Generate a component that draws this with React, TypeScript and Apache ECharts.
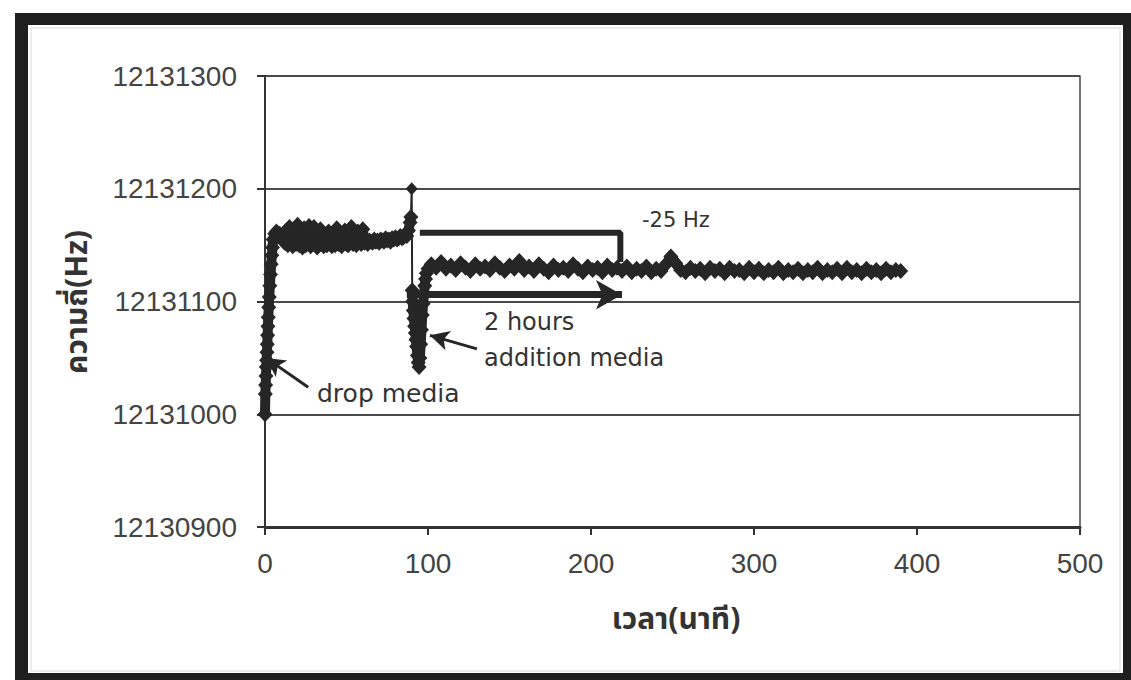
import React, { useEffect, useRef } from "react";
import * as echarts from "echarts";

// ---- Data ----
// drop of medium at t = 0 and settling
const dropTimes = [0, 0.2, 0.4, 0.6, 0.8, 1.0, 1.2, 1.4, 1.6, 1.8, 2.0, 2.3, 2.6, 3.0, 3.4, 3.8, 4.2, 4.6];
const dropFreq = [12131000, 12131018, 12131026, 12131034, 12131042, 12131048, 12131055, 12131062, 12131070, 12131078, 12131086, 12131095, 12131104, 12131114, 12131124, 12131133, 12131141, 12131148];

// first plateau (minutes 5..89.5)
const plateau1Times = [5, 6, 7, 8, 9, 10, 11, 12, 13, 14, 15, 16, 17, 18, 19, 20, 21, 22, 23, 24, 25, 26, 27, 28, 29, 30, 31, 32, 33, 34, 35, 36, 37, 38, 39, 40, 41, 42, 43, 44, 45, 46, 47, 48, 49, 50, 51, 52, 53, 54, 55, 56, 57, 58, 59, 60, 61, 62, 63, 64, 65, 66, 67, 68, 69, 70, 71, 72, 73, 74, 75, 76, 77, 78, 79, 80, 81, 82, 83, 84, 85, 86, 87, 88, 89, 89.5];
const plateau1Freq = [12131155, 12131160, 12131162, 12131158, 12131160, 12131157, 12131155, 12131152, 12131163, 12131150, 12131166, 12131152, 12131149, 12131164, 12131151, 12131168, 12131150, 12131153, 12131148, 12131165, 12131150, 12131152, 12131167, 12131149, 12131151, 12131166, 12131150, 12131148, 12131153, 12131164, 12131151, 12131149, 12131155, 12131150, 12131162, 12131152, 12131149, 12131154, 12131150, 12131165, 12131151, 12131153, 12131149, 12131152, 12131163, 12131151, 12131150, 12131154, 12131166, 12131151, 12131152, 12131150, 12131162, 12131153, 12131151, 12131164, 12131152, 12131153, 12131151, 12131154, 12131153, 12131152, 12131155, 12131153, 12131154, 12131152, 12131155, 12131154, 12131153, 12131156, 12131154, 12131155, 12131153, 12131156, 12131155, 12131157, 12131155, 12131156, 12131158, 12131156, 12131157, 12131159, 12131158, 12131163, 12131170, 12131175];

// single high reading at minute 90
const spikeTimes = [90];
const spikeFreq = [12131200];

// addition of medium around minute 90
const addTimes = [90.3, 90.6, 91, 91.4, 91.8, 92.2, 92.6, 93, 93.5, 94, 94.5, 95, 95.5, 96, 96.5, 97, 97.5, 98, 98.5, 99, 100];
const addFreq = [12131110, 12131100, 12131092, 12131085, 12131078, 12131072, 12131066, 12131060, 12131052, 12131046, 12131042, 12131050, 12131062, 12131075, 12131088, 12131098, 12131106, 12131114, 12131120, 12131125, 12131129];

// second plateau (minutes 102..390)
const plateau2Times = [102, 105, 108, 111, 114, 117, 120, 123, 126, 129, 132, 135, 138, 141, 144, 147, 150, 153, 156, 159, 162, 165, 168, 171, 174, 177, 180, 183, 186, 189, 192, 195, 198, 201, 204, 207, 210, 213, 216, 219, 222, 225, 228, 231, 234, 237, 240, 243, 246, 249, 252, 255, 258, 261, 264, 267, 270, 273, 276, 279, 282, 285, 288, 291, 294, 297, 300, 303, 306, 309, 312, 315, 318, 321, 324, 327, 330, 333, 336, 339, 342, 345, 348, 351, 354, 357, 360, 363, 366, 369, 372, 375, 378, 381, 384, 387, 390];
const plateau2Freq = [12131133, 12131130, 12131135, 12131129, 12131132, 12131128, 12131134, 12131130, 12131127, 12131133, 12131129, 12131131, 12131128, 12131134, 12131130, 12131127, 12131132, 12131129, 12131136, 12131128, 12131131, 12131127, 12131133, 12131129, 12131126, 12131132, 12131128, 12131130, 12131127, 12131133, 12131129, 12131126, 12131131, 12131128, 12131130, 12131126, 12131132, 12131128, 12131130, 12131127, 12131131, 12131126, 12131129, 12131127, 12131131, 12131126, 12131129, 12131127, 12131133, 12131140, 12131134, 12131128, 12131126, 12131130, 12131127, 12131129, 12131125, 12131130, 12131127, 12131129, 12131125, 12131130, 12131127, 12131128, 12131125, 12131130, 12131126, 12131129, 12131125, 12131128, 12131126, 12131130, 12131125, 12131128, 12131126, 12131129, 12131125, 12131128, 12131126, 12131130, 12131125, 12131128, 12131126, 12131129, 12131125, 12131130, 12131126, 12131128, 12131125, 12131129, 12131126, 12131128, 12131125, 12131129, 12131126, 12131128, 12131127];

// annotation geometry (data coordinates: minutes, Hz)
const bracketTimes = [95, 218, 218];
const bracketFreq = [12131161, 12131161, 12131135];
const hoursArrow = [[87, 12131106], [219, 12131106]];
const dropArrow = [[26.5, 12131024], [0.6, 12131050]];
const addArrow = [[130, 12131058], [101.2, 12131070]];

const xTicks = { min: 0, max: 500, step: 100 };
const yTicks = { min: 12130900, max: 12131300, step: 100 };

const xTitle = "เวลา(นาที)";
const yTitle = "ความถี่(Hz)";

const zip = (a: number[], b: number[]) => a.map((t, i) => [t, b[i]]);

export default function App() {
  const ref = useRef<HTMLDivElement>(null);

  useEffect(() => {
    if (!ref.current) return;
    const chart = echarts.init(ref.current, undefined, { renderer: "svg" });
    const dark = "#262626";
    const lastP1 = plateau1Times.length - 1;
    const seg1 = [...zip(dropTimes, dropFreq), ...zip(plateau1Times, plateau1Freq)];
    const spikeSeg = [
      [plateau1Times[lastP1], plateau1Freq[lastP1]],
      ...zip(spikeTimes, spikeFreq),
      [addTimes[0], addFreq[0]],
    ];
    const seg2 = [...zip(addTimes, addFreq), ...zip(plateau2Times, plateau2Freq)];

    const tickFont = "'Liberation Sans', Arial, sans-serif";
    const annFont = "'DejaVu Sans', Verdana, sans-serif";
    const thaiFont = "'Noto Sans Thai', 'Loma', 'Garuda', 'Tlwg Typo', 'DejaVu Sans', sans-serif";

    const dataSeries = (data: number[][], width: number, size: number[]) => ({
      type: "line",
      data,
      symbol: "diamond",
      symbolSize: size,
      showAllSymbol: true,
      itemStyle: { color: dark },
      lineStyle: { color: dark, width, join: "round", cap: "round" },
      silent: true,
      z: 3,
    });

    const arrowLine = (pts: number[][], width: number, size: number[]) => ({
      type: "line",
      data: [],
      silent: true,
      markLine: {
        silent: true,
        symbol: ["none", "arrow"],
        symbolSize: size,
        label: { show: false },
        lineStyle: { color: dark, width, type: "solid" },
        emphasis: { disabled: true },
        data: [[{ coord: pts[0] }, { coord: pts[1] }]],
      },
    });

    chart.setOption({
      animation: false,
      backgroundColor: "#ffffff",
      grid: {
        left: 265,
        right: 51,
        top: 76,
        bottom: 153,
        show: true,
        borderColor: "#4a4a4a",
        borderWidth: 1.5,
      },
      xAxis: {
        type: "value",
        min: xTicks.min,
        max: xTicks.max,
        interval: xTicks.step,
        axisLine: { show: true, lineStyle: { color: "#333", width: 3 } },
        axisTick: { show: true, inside: false, length: 8, lineStyle: { color: "#333", width: 2 } },
        splitLine: { show: false },
        axisLabel: { fontSize: 28, color: "#444", fontFamily: tickFont, margin: 22 },
      },
      yAxis: {
        type: "value",
        min: yTicks.min,
        max: yTicks.max,
        interval: yTicks.step,
        axisLine: { show: true, lineStyle: { color: "#333", width: 2 } },
        axisTick: { show: true, inside: false, length: 8, lineStyle: { color: "#333", width: 2 } },
        splitLine: { show: true, lineStyle: { color: "#4a4a4a", width: 2 } },
        axisLabel: {
          fontSize: 28,
          color: "#444",
          fontFamily: tickFont,
          margin: 28,
          formatter: (v: number) => String(v),
        },
      },
      series: [
        dataSeries(seg1, 10, [15, 16]),
        dataSeries(spikeSeg, 2, [12, 13]),
        dataSeries(seg2, 10, [15, 16]),
        {
          type: "line",
          data: zip(bracketTimes, bracketFreq),
          symbol: "none",
          lineStyle: { color: dark, width: 6 },
          silent: true,
          z: 4,
        },
        arrowLine(hoursArrow, 7, [22, 26]),
        arrowLine(dropArrow, 3, [15, 19]),
        arrowLine(addArrow, 3, [15, 19]),
      ],
      graphic: [
        // frame
        { type: "rect", shape: { x: 15, y: 13, width: 1116, height: 12 }, style: { fill: "#1e1e1e" }, silent: true },
        { type: "rect", shape: { x: 15, y: 13, width: 13, height: 667 }, style: { fill: "#1e1e1e" }, silent: true },
        { type: "rect", shape: { x: 1123, y: 13, width: 8, height: 667 }, style: { fill: "#1e1e1e" }, silent: true },
        { type: "rect", shape: { x: 15, y: 673, width: 1116, height: 7 }, style: { fill: "#1e1e1e" }, silent: true },
        { type: "rect", shape: { x: 31, y: 28, width: 1089, height: 643 }, style: { fill: "none", stroke: "#d8d8d8", lineWidth: 1 }, silent: true },
        // axis titles
        {
          type: "text",
          x: 676,
          y: 620,
          style: { text: xTitle, fontSize: 30, fontWeight: "bold", fontFamily: thaiFont, fill: "#333", align: "center", verticalAlign: "middle" },
          silent: true,
        },
        {
          type: "text",
          x: 78,
          y: 302,
          rotation: Math.PI / 2,
          style: { text: yTitle, fontSize: 30, fontWeight: "bold", fontFamily: thaiFont, fill: "#333", align: "center", verticalAlign: "middle" },
          silent: true,
        },
        // annotations
        {
          type: "text",
          x: 642,
          y: 220,
          style: { text: "-25 Hz", fontSize: 21, fontFamily: annFont, fill: "#333", align: "left", verticalAlign: "middle" },
          silent: true,
        },
        {
          type: "text",
          x: 484,
          y: 322,
          style: { text: "2 hours", fontSize: 24, fontFamily: annFont, fill: "#333", align: "left", verticalAlign: "middle" },
          silent: true,
        },
        {
          type: "text",
          x: 484,
          y: 358,
          style: { text: "addition media", fontSize: 24, fontFamily: annFont, fill: "#333", align: "left", verticalAlign: "middle" },
          silent: true,
        },
        {
          type: "text",
          x: 317,
          y: 393,
          style: { text: "drop media", fontSize: 25, fontFamily: annFont, fill: "#333", align: "left", verticalAlign: "middle" },
          silent: true,
        },
      ],
    });
    return () => chart.dispose();
  }, []);

  return (
    <div
      ref={ref}
      style={{ position: "absolute", left: 0, top: 0, width: 1131, height: 680, background: "#fff" }}
    />
  );
}
